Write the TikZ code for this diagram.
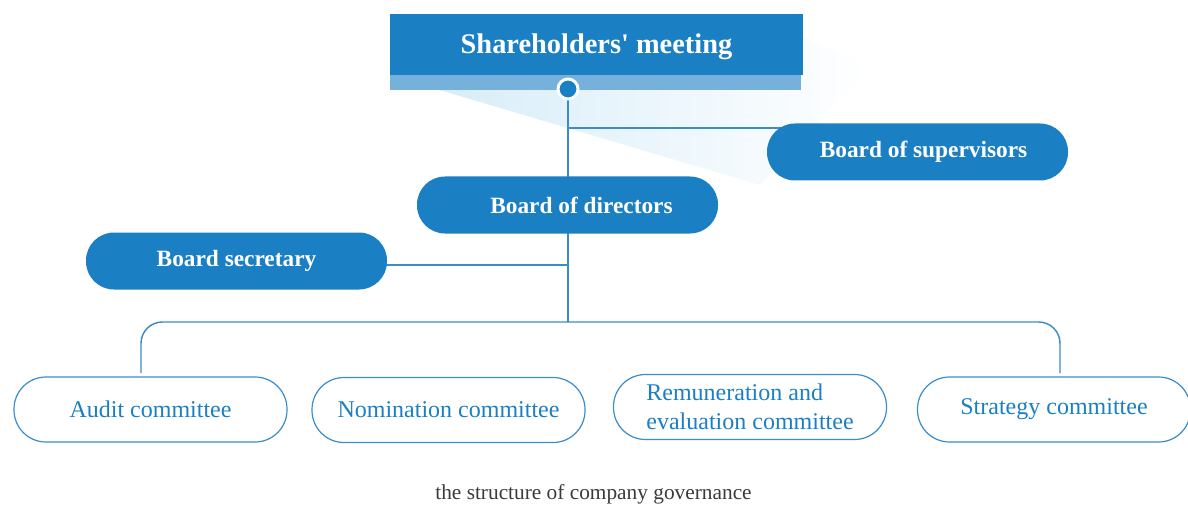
\documentclass[tikz,border=0pt]{standalone}
\usepackage{fontspec}
\setmainfont{Liberation Serif}
\usepackage{xcolor}
\usetikzlibrary{backgrounds}

\definecolor{govblue}{HTML}{1B7FC4}
\definecolor{govband}{HTML}{76B1DB}
\definecolor{govline}{HTML}{3A8CCB}
\definecolor{govshade}{HTML}{D3EBF8}
\definecolor{govgray}{HTML}{3A3A3A}

% straight apostrophe, no tex-text mapping
\newcommand{\straightq}{\XeTeXglyph\XeTeXglyphindex "quotesingle"\relax}

\tikzset{
  pill/.style={rounded corners=21pt, fill=govblue, text=white, inner sep=0pt,
    minimum width=225.75pt, minimum height=42.75pt,
    font=\fontsize{17.5}{20}\selectfont\bfseries},
  cmte/.style={rounded corners=24pt, draw=govline, line width=0.9pt, fill=white,
    text=govblue, inner sep=0pt, align=left,
    minimum width=204.75pt, minimum height=48.75pt,
    font=\fontsize{18}{21.5}\selectfont},
  link/.style={draw=govline, line width=1.1pt}
}

\begin{document}
\begin{tikzpicture}[x=0.75pt,y=0.75pt,yscale=-1,xscale=1]

\useasboundingbox (0,0) rectangle (1188,506);

% top box
\node (meet) [fill=govblue, minimum width=309.75pt, minimum height=45.75pt] at (596.5,44.5) {};
\node (meettxt) [text=white, font=\fontsize{21.3}{24}\selectfont\bfseries] at (596.5,47) {Shareholders\straightq{} meeting};
\fill[govband] (meet.south west) rectangle ++(411,15);
\node (dot) [circle, fill=govblue, draw=white, line width=2.2pt, minimum size=15pt, inner sep=0pt] at (568,89) {};

% boards
\node (sup) [pill] at (917.5,152) {\hspace*{9pt}Board of supervisors};
\node (dir) [pill] at (567.5,205) {\hspace*{21pt}Board of directors};
\node (sec) [pill] at (236.5,261) {Board secretary};

% committees
\node (aud) [cmte] at (150.5,409.5) {Audit committee};
\node (nom) [cmte] at (448.5,410) {Nomination committee};
\node (rem) [cmte] at (750,407) {Remuneration and\\evaluation committee};
\node (str) [cmte] at (1054,409.5) {Strategy committee};

\coordinate (tsup) at (568,128);
\coordinate (tsec) at (568,265);
\coordinate (bus) at (568,322);
\coordinate (busl) at (141,373);
\coordinate (busr) at (1060,373);

\begin{pgfonlayer}{background}
  \shade[left color=govshade, right color=white]
    (meet.south west) -- (803,37) -- (870,65) -- (760,185) -- cycle;
  \draw[link] (dot) -- (bus);
  \draw[link] (tsup) -- (tsup -| sup.center);
  \draw[link] (tsec) -- (tsec -| sec.center);
\end{pgfonlayer}
\draw[link, rounded corners=16pt] (busl) |- (bus) -| (busr);

% caption
\node (cap) [text=govgray, font=\fontsize{16}{18}\selectfont] at (593.5,494) {the structure of company governance};

\end{tikzpicture}
\end{document}
